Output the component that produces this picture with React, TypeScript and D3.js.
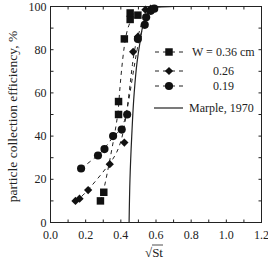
import { useEffect, useRef } from "react";
import * as d3 from "d3";

// Measured efficiency, W = 0.36 cm (squares)
const sqrtStW036 = [0.284, 0.303, 0.387, 0.387, 0.42, 0.453, 0.453, 0.497];
const effW036 = [10, 14, 50, 56, 85, 94, 97, 96];

// W = 0.26 cm (diamonds)
const sqrtStW026 = [0.142, 0.165, 0.214, 0.337, 0.42, 0.47, 0.497, 0.54, 0.57];
const effW026 = [10, 11, 15, 27, 37, 79, 86, 98.5, 99];

// W = 0.19 cm (circles)
const sqrtStW019 = [0.174, 0.27, 0.307, 0.356, 0.405, 0.436, 0.497, 0.536, 0.544, 0.57, 0.59];
const effW019 = [25, 31, 34, 40, 43, 50, 85, 91.5, 95, 98, 99];

// Marple (1970) theoretical curve
const sqrtStMarple = [0.447, 0.452, 0.462, 0.476, 0.492, 0.51, 0.525, 0.545, 0.58, 0.63, 0.7];
const effMarple = [0, 20, 40, 60, 74, 84, 91, 96, 99, 99.8, 100];

const xTicks = [0, 0.2, 0.4, 0.6, 0.8, 1.0, 1.2];
const yTicks = [0, 20, 40, 60, 80, 100];

const legendLabels = ["W = 0.36 cm", "0.26", "0.19", "Marple, 1970"];

const FONT = "'Liberation Serif', 'DejaVu Serif', serif";

const App: React.FC = () => {
    const svgRef = useRef<SVGSVGElement | null>(null);

    useEffect(() => {
        if (!svgRef.current) return;
        const svg = d3.select(svgRef.current);
        svg.selectAll("*").remove();

        const left = 50.5, right = 261.5, top = 6.5, bottom = 222.5;
        const x = d3.scaleLinear().domain([0, 1.2]).range([left, right]);
        const y = d3.scaleLinear().domain([0, 100]).range([bottom, top]);

        const zip = (xs: number[], ys: number[]) => xs.map((v, i) => [v, ys[i]] as [number, number]);

        // frame
        svg.append("rect")
            .attr("x", left).attr("y", top)
            .attr("width", right - left).attr("height", bottom - top)
            .attr("fill", "none").attr("stroke", "#222").attr("stroke-width", 1);

        // inward ticks, major + minor, on all four sides
        const xMinor = d3.range(0, 1.21, 0.1);
        const yMinor = d3.range(0, 101, 10);
        const tk = svg.append("g").attr("stroke", "#222").attr("stroke-width", 1);
        xMinor.forEach(v => {
            const len = 3;
            tk.append("line").attr("x1", x(v)).attr("x2", x(v)).attr("y1", bottom).attr("y2", bottom - len);
            tk.append("line").attr("x1", x(v)).attr("x2", x(v)).attr("y1", top).attr("y2", top + len);
        });
        yMinor.forEach(v => {
            const len = 3;
            tk.append("line").attr("y1", y(v)).attr("y2", y(v)).attr("x1", left).attr("x2", left + len);
            tk.append("line").attr("y1", y(v)).attr("y2", y(v)).attr("x1", right).attr("x2", right - len);
        });

        // tick labels
        svg.append("g").selectAll("text").data(xTicks).enter().append("text")
            .attr("x", d => x(d)).attr("y", 239)
            .attr("text-anchor", "middle")
            .style("font-family", FONT).style("font-size", "12px").attr("fill", "#222")
            .text(d => d3.format(".1f")(d));
        svg.append("g").selectAll("text").data(yTicks).enter().append("text")
            .attr("x", left - 4).attr("y", d => y(d) + 4)
            .attr("text-anchor", "end")
            .style("font-family", FONT).style("font-size", "12px").attr("fill", "#222")
            .text(d => d);

        // axis titles
        svg.append("text")
            .attr("transform", `translate(17,${(top + bottom) / 2 + 2}) rotate(-90)`)
            .attr("text-anchor", "middle")
            .style("font-family", FONT).style("font-size", "13.5px").attr("fill", "#222")
            .text("particle collection efficiency, %");
        const xt = svg.append("text")
            .attr("x", 145).attr("y", 256.5)
            .style("font-family", FONT).style("font-size", "13px").attr("fill", "#222");
        xt.append("tspan").text("√");
        xt.append("tspan").text("St");
        svg.append("line").attr("x1", 152).attr("x2", 163).attr("y1", 245).attr("y2", 245)
            .attr("stroke", "#222").attr("stroke-width", 0.8);

        // curves
        const line = d3.line<[number, number]>()
            .x(d => x(d[0])).y(d => y(d[1]))
            .curve(d3.curveBasis);
        const sorted = (pts: [number, number][]) => pts.slice().sort((a, b) => a[1] - b[1]);

        const s036 = zip(sqrtStW036, effW036);
        const s026 = zip(sqrtStW026, effW026);
        const s019 = zip(sqrtStW019, effW019);

        [s036, s026, s019].forEach(pts => {
            svg.append("path")
                .attr("d", line(sorted(pts)))
                .attr("fill", "none").attr("stroke", "#222")
                .attr("stroke-width", 1).attr("stroke-dasharray", "4,4");
        });

        svg.append("path")
            .attr("d", d3.line<[number, number]>().x(d => x(d[0])).y(d => y(d[1]))
                .curve(d3.curveMonotoneY)(zip(sqrtStMarple, effMarple)))
            .attr("fill", "none").attr("stroke", "#222").attr("stroke-width", 1.2);

        // markers; diamonds are squares turned 45°
        const sq = d3.symbol().type(d3.symbolSquare).size(56);
        const dm = d3.symbol().type(d3.symbolSquare).size(34);
        const ci = d3.symbol().type(d3.symbolCircle).size(52);
        const rot = [0, 45, 0];
        const drawPts = (pts: [number, number][], sym: d3.Symbol<any, any>, r: number) => {
            svg.append("g").selectAll("path").data(pts).enter().append("path")
                .attr("d", sym() as string)
                .attr("transform", d => `translate(${x(d[0])},${y(d[1])}) rotate(${r})`)
                .attr("fill", "#111");
        };
        drawPts(s036, sq, rot[0]);
        drawPts(s026, dm, rot[1]);
        drawPts(s019, ci, rot[2]);

        // legend
        const rows = [56, 75, 90, 112];
        const syms = [sq, dm, ci];
        rows.forEach((ry, i) => {
            const cy = ry - 4;
            if (i < 3) {
                svg.append("line").attr("x1", 155).attr("x2", 183).attr("y1", cy).attr("y2", cy)
                    .attr("stroke", "#222").attr("stroke-width", 1).attr("stroke-dasharray", "4,4");
                svg.append("path").attr("d", syms[i]() as string)
                    .attr("transform", `translate(169,${cy}) rotate(${rot[i]})`).attr("fill", "#111");
            } else {
                svg.append("line").attr("x1", 154).attr("x2", 183).attr("y1", cy).attr("y2", cy)
                    .attr("stroke", "#222").attr("stroke-width", 1.2);
            }
            svg.append("text")
                .attr("x", i === 0 ? 192 : i === 3 ? 189 : 213).attr("y", ry)
                .style("font-family", FONT).style("font-size", "12px").attr("fill", "#222")
                .text(legendLabels[i]);
        });
    }, []);

    return (
        <div style={{ position: "fixed", left: 0, top: 0 }}>
            <svg ref={svgRef} width={268} height={260} style={{ display: "block", background: "#fff" }} />
        </div>
    );
};

export default App;
